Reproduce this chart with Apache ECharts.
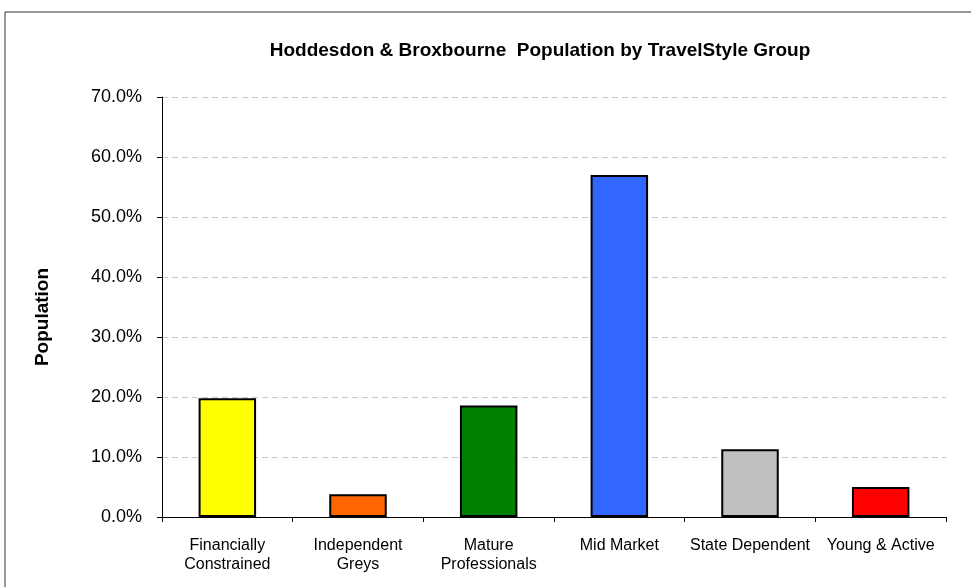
<!DOCTYPE html>
<html>
<head>
<meta charset="utf-8">
<script src="https://cdn.jsdelivr.net/npm/echarts@6/dist/echarts.min.js"></script>
<style>
  html, body { margin: 0; padding: 0; background: #fff; }
  #chart { width: 971px; height: 587px; }
</style>
</head>
<body>
<div id="chart"></div>
<script>
// data
const groups = ['Financially\nConstrained', 'Independent\nGreys', 'Mature\nProfessionals', 'Mid Market', 'State Dependent', 'Young & Active'];
const population = [19.8, 3.8, 18.6, 57.0, 11.3, 5.0];
const barColours = ['#FFFF00', '#FF6600', '#008000', '#3366FF', '#C0C0C0', '#FF0000'];
const yTicks = [0, 10, 20, 30, 40, 50, 60, 70];

const chart = echarts.init(document.getElementById('chart'));

chart.setOption({
  animation: false,
  backgroundColor: '#fff',
  textStyle: { fontFamily: 'Arial, "Liberation Sans", sans-serif' },
  title: {
    text: 'Hoddesdon & Broxbourne  Population by TravelStyle Group',
    left: 535,
    top: 36,
    textAlign: 'center',
    textStyle: { fontSize: 19, fontWeight: 'bold', color: '#000' }
  },
  // outer frame of the chart area
  graphic: [{
    type: 'rect',
    shape: { x: 5, y: 12, width: 1000, height: 700 },
    style: { fill: 'none', stroke: '#333', lineWidth: 1 },
    silent: true
  }],
  grid: { left: 162, right: 25, top: 97, bottom: 70 },
  xAxis: {
    type: 'category',
    data: groups,
    axisLine: { lineStyle: { color: '#000', width: 1 } },
    axisTick: { show: true, interval: 0, length: 5, lineStyle: { color: '#000' } },
    axisLabel: { interval: 0, color: '#000', fontSize: 16, lineHeight: 19, margin: 19 }
  },
  yAxis: {
    type: 'value',
    min: yTicks[0],
    max: yTicks[yTicks.length - 1],
    interval: 10,
    name: 'Population',
    nameLocation: 'middle',
    nameGap: 110,
    nameRotate: 90,
    nameTextStyle: { fontSize: 19, fontWeight: 'bold', color: '#000', padding: [0, 20, 0, 0] },
    axisLine: { show: true, lineStyle: { color: '#000', width: 1 } },
    axisTick: { show: true, length: 5, lineStyle: { color: '#000' } },
    axisLabel: {
      color: '#000',
      fontSize: 18,
      margin: 20,
      formatter: v => v.toFixed(1) + '%'
    },
    splitLine: { lineStyle: { color: '#c8c8c8', type: [6, 4], width: 1 } }
  },
  series: [{
    type: 'bar',
    barWidth: '44%',
    data: population.map((v, i) => ({
      value: v,
      itemStyle: { color: barColours[i] }
    })),
    itemStyle: { borderColor: '#000', borderWidth: 2 }
  }]
});
</script>
</body>
</html>
